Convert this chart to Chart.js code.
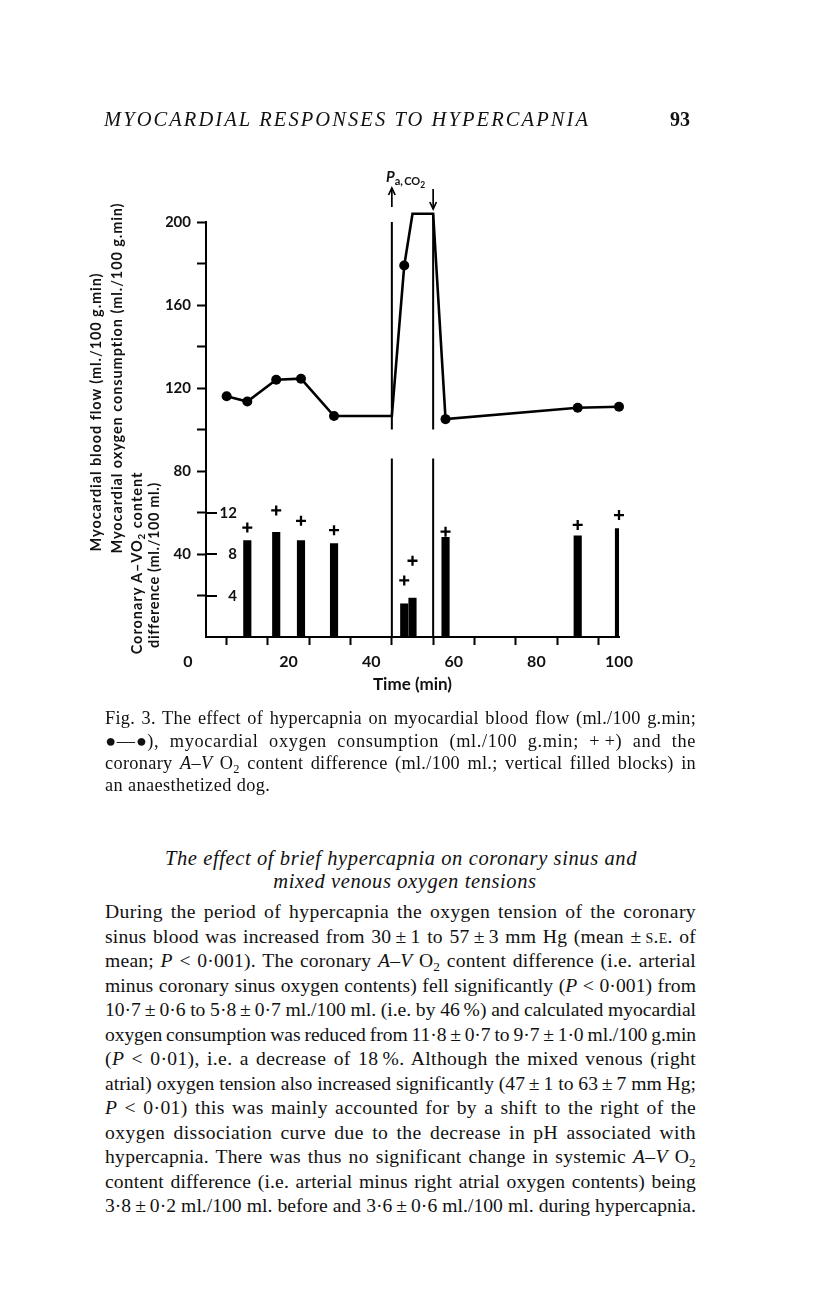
<!DOCTYPE html>
<html><head><meta charset="utf-8">
<script src="https://cdn.jsdelivr.net/npm/chart.js@4.4.1/dist/chart.umd.min.js"></script>
<style>
html,body{margin:0;padding:0;background:#fff;}
body{width:816px;height:1296px;position:relative;overflow:hidden;color:#111;}
#wrap{position:absolute;left:0;top:0;width:816px;height:720px;}
.abs{position:absolute;white-space:nowrap;}
.serif{font-family:"Liberation Serif","Times New Roman",serif;}
.sans{font-family:Lato,"Open Sans",sans-serif;}
.rot{position:absolute;white-space:nowrap;font-family:Lato,sans-serif;font-weight:bold;font-size:14.5px;line-height:16px;transform:translate(-50%,-50%) rotate(-90deg);color:#111;}
sub{font-size:0.68em;vertical-align:-0.3em;line-height:0;}
.sc{font-variant:small-caps;}
</style></head><body>
<div id="wrap"><canvas id="c" width="816" height="720"></canvas></div>
<div id="pco2" class="abs sans" style="left:386px;top:166px;color:#111;"><span style="font-style:italic;font-weight:bold;font-size:15px;">P</span><span style="font-size:11px;font-weight:bold;position:relative;top:3px;">a,&thinsp;CO<span style="font-size:8.5px;position:relative;top:3px;">2</span></span></div>
<script>
// ---------------- data ----------------
const times = [5, 10, 17, 23, 31, 45, 48, 50, 55, 58, 90, 100];
const bloodFlow = [116, 113.5, 124, 124.5, 106.5, 106.5, 179, 204, 204, 105, 110.5, 111];
const avTimes = [10, 17, 23, 31, 48, 50, 58, 90, 100];
const avDiff = [9.3, 10.1, 9.3, 9.0, 3.2, 3.75, 9.6, 9.75, 10.45];
const o2Consumption = [10.55, 12.2, 11.2, 10.3, 5.45, 7.35, 10.15, 10.8, 11.75];
const hyperStart = 45, hyperEnd = 55;
const markerBreak = [86, 100];
const flowTicks = [200, 160, 120, 80, 40];
const avTicks = [12, 8, 4];
const timeTicks = [0, 20, 40, 60, 80, 100];

const hideZero = ctx => (ctx.tick && ctx.tick.value === 0) ? 'rgba(0,0,0,0)' : '#000';
const tickFont = {family: 'Lato', size: 15, weight: 'bold'};

function periodLine(t, topVal) {
  return [{x: t, y: 0}, {x: t, y: markerBreak[0]}, {x: t, y: null}, {x: t, y: markerBreak[1]}, {x: t, y: topVal}];
}

const extras = {
  id: 'extras',
  afterDraw(chart) {
    const {ctx, scales: {x, y2}, chartArea} = chart;
    const left = x.left;
    ctx.save();
    ctx.strokeStyle = '#000'; ctx.fillStyle = '#111'; ctx.lineWidth = 2;
    ctx.font = 'bold 15px Lato'; ctx.textAlign = 'right'; ctx.textBaseline = 'middle';
    avTicks.forEach(v => {
      const py = Math.round(y2.getPixelForValue(v));
      ctx.beginPath(); ctx.moveTo(left, py); ctx.lineTo(left + 11, py); ctx.stroke();
      ctx.fillText(String(v), left + 31, py);
    });
    ctx.font = 'bold 16px Lato'; ctx.textAlign = 'center';
    ctx.fillText(String(timeTicks[0]), left - 18, x.top + 25);
    // arrows
    const top = chartArea.top;
    ctx.lineWidth = 1.7;
    function arrow(px, y0, y1) {
      const d = y1 > y0 ? 1 : -1;
      ctx.beginPath(); ctx.moveTo(px, y0); ctx.lineTo(px, y1); ctx.stroke();
      ctx.beginPath(); ctx.moveTo(px - 3.3, y1 - d * 7); ctx.lineTo(px, y1); ctx.lineTo(px + 3.3, y1 - d * 7); ctx.stroke();
    }
    arrow(x.getPixelForValue(hyperStart), top - 15, top - 34);
    arrow(x.getPixelForValue(hyperEnd), top - 33, top - 13);
    ctx.restore();
  }
};

new Chart(document.getElementById('c'), {
  type: 'line',
  data: {
    datasets: [
      {
        label: 'Myocardial blood flow',
        data: times.map((t, i) => ({x: t, y: bloodFlow[i]})),
        yAxisID: 'y', borderColor: '#000', borderWidth: 2.6, tension: 0,
        pointRadius: ctx => (ctx.raw && (ctx.raw.x === hyperStart || ctx.raw.x === hyperEnd)) ? 0 : 5,
        pointBackgroundColor: '#000', pointBorderColor: '#000', pointBorderWidth: 0,
        clip: false
      },
      {
        label: 'Start', data: periodLine(hyperStart, 200), yAxisID: 'y',
        borderColor: '#000', borderWidth: 2, pointRadius: 0, spanGaps: false, clip: false
      },
      {
        label: 'End', data: periodLine(hyperEnd, bloodFlow[times.indexOf(hyperEnd)]), yAxisID: 'y',
        borderColor: '#000', borderWidth: 2, pointRadius: 0, spanGaps: false, clip: false
      },
      {
        label: 'O2 consumption', data: avTimes.map((t, i) => ({x: t, y: o2Consumption[i]})), yAxisID: 'y2',
        showLine: false, pointStyle: 'cross', pointRadius: 5, pointBorderWidth: 2.3,
        borderColor: '#000', pointBorderColor: '#000', clip: false
      },
      {
        type: 'bar', label: 'A-V O2 difference', data: avTimes.map((t, i) => ({x: t, y: avDiff[i]})), yAxisID: 'y2',
        backgroundColor: '#000', borderWidth: 0, barThickness: 7.5
      }
    ]
  },
  options: {
    responsive: false, animation: false, devicePixelRatio: 1,
    layout: {padding: {left: 166, top: 222, right: 197, bottom: 25}},
    plugins: {legend: {display: false}, tooltip: {enabled: false}},
    scales: {
      x: {
        type: 'linear', min: 0, max: 100, offset: false,
        afterFit: s => { s.height = 58; },
        ticks: {stepSize: 10, autoSkip: false, maxRotation: 0, padding: 7, color: '#111',
          font: {family: 'Lato', size: 16, weight: 'bold'},
          callback: v => (v !== 0 && timeTicks.includes(v)) ? String(v) : ''},
        grid: {drawOnChartArea: false, drawTicks: true, tickLength: 8, tickWidth: 2, tickColor: hideZero, color: hideZero},
        border: {display: true, color: '#000', width: 2},
        title: {display: true, text: 'Time (min)', color: '#111', padding: 0,
          font: {family: 'Lato', size: 17, weight: 'bold'}}
      },
      y: {
        min: 0, max: 200, position: 'left',
        afterFit: s => { s.width = 40; },
        ticks: {stepSize: 20, autoSkip: false, padding: 6, color: '#111', font: tickFont,
          callback: v => flowTicks.includes(v) ? String(v) : ''},
        grid: {drawOnChartArea: false, drawTicks: true, tickLength: 9, tickWidth: 2, tickColor: hideZero, color: hideZero},
        border: {display: true, color: '#000', width: 2}
      },
      y2: {min: 0, max: 40, display: false}
    }
  },
  plugins: [extras]
});

// ---------------- page text ----------------
function rotLabel(html, cx, cy, len) {
  const d = document.createElement('div');
  d.className = 'rot'; d.innerHTML = html;
  document.body.appendChild(d);
  const n = d.textContent.length;
  const nat = d.offsetWidth;
  d.style.letterSpacing = ((len - nat) / n) + 'px';
  d.style.left = cx + 'px'; d.style.top = cy + 'px';
}
rotLabel('Myocardial blood flow (ml./100 g.min)', 96, 412, 279);
rotLabel('Myocardial oxygen consumption (ml./100 g.min)', 117, 378, 351);
rotLabel('Coronary A–VO<sub>2</sub> content', 137, 563, 183);
rotLabel('difference (ml./100 ml.)', 154, 565, 165);

function addLine(html, cy, left, width, size, mode, opts) {
  opts = opts || {};
  const d = document.createElement('div');
  d.className = 'abs serif';
  d.style.fontSize = size + 'px';
  d.style.lineHeight = Math.round(size * 1.2) + 'px';
  if (opts.ls) d.style.letterSpacing = opts.ls + 'px';
  if (opts.bold) d.style.fontWeight = 'bold';
  d.innerHTML = html;
  document.body.appendChild(d);
  const h = d.offsetHeight;
  d.style.top = (cy - h / 2) + 'px';
  const nat = d.getBoundingClientRect().width;
  const nchars = d.textContent.length;
  const spaces = (d.textContent.match(/ /g) || []).length;
  if (mode === 'justify') {
    const extra = width - nat;
    let ws = spaces ? extra * 0.5 / spaces : 0;
    if (ws < -2.6) ws = -2.6;
    if (ws > 6) ws = 6;
    const ls = (extra - ws * spaces) / nchars;
    d.style.wordSpacing = ws + 'px';
    d.style.letterSpacing = ls + 'px';
  } else if (mode === 'letter') {
    d.style.letterSpacing = ((width - nat) / nchars) + 'px';
  }
  if (mode === 'center') {
    const w = d.getBoundingClientRect().width;
    d.style.left = (left - w / 2) + 'px';
  } else {
    d.style.left = left + 'px';
  }
  return d;
}

// running head
addLine('<i>MYOCARDIAL RESPONSES TO HYPERCAPNIA</i>', 119, 104, 486, 20.5, 'letter');
addLine('93', 119, 670, 0, 20, 'none', {bold: true});

// caption
const capL = 105, capW = 591, capS = 18.3;
addLine('Fig. 3. The effect of hypercapnia on myocardial blood flow (ml./100 g.min;', 718, capL, capW, capS, 'justify');
addLine('●—●), myocardial oxygen consumption (ml./100 g.min; +\u2009+) and the', 740.5, capL, capW, capS, 'justify');
addLine('coronary <i>A–V</i> O<sub>2</sub> content difference (ml./100 ml.; vertical filled blocks) in', 763, capL, capW, capS, 'justify');
addLine('an anaesthetized dog.', 785, capL, capW, capS, 'none', {ls: 0.4});

// section heading
addLine('<i>The effect of brief hypercapnia on coronary sinus and</i>', 858, 401, 0, 20.5, 'center', {ls: 0.6});
addLine('<i>mixed venous oxygen tensions</i>', 881, 405, 0, 20.5, 'center', {ls: 0.6});

// body paragraph
const pm = '\u2009±\u2009';
const body = [
  'During the period of hypercapnia the oxygen tension of the coronary',
  'sinus blood was increased from 30' + pm + '1 to 57' + pm + '3 mm Hg (mean ±\u2009<span class="sc">s.e.</span> of',
  'mean; <i>P</i> &lt; 0·001). The coronary <i>A–V</i> O<sub>2</sub> content difference (i.e. arterial',
  'minus coronary sinus oxygen contents) fell significantly (<i>P</i> &lt; 0·001) from',
  '10·7' + pm + '0·6 to 5·8' + pm + '0·7 ml./100 ml. (i.e. by 46\u2009%) and calculated myocardial',
  'oxygen consumption was reduced from 11·8' + pm + '0·7 to 9·7' + pm + '1·0 ml./100 g.min',
  '(<i>P</i> &lt; 0·01), i.e. a decrease of 18\u2009%. Although the mixed venous (right',
  'atrial) oxygen tension also increased significantly (47' + pm + '1 to 63' + pm + '7 mm Hg;',
  '<i>P</i> &lt; 0·01) this was mainly accounted for by a shift to the right of the',
  'oxygen dissociation curve due to the decrease in pH associated with',
  'hypercapnia. There was thus no significant change in systemic <i>A–V</i> O<sub>2</sub>',
  'content difference (i.e. arterial minus right atrial oxygen contents) being',
  '3·8' + pm + '0·2 ml./100 ml. before and 3·6' + pm + '0·6 ml./100 ml. during hypercapnia.'
];
body.forEach((l, i) => addLine(l, 912 + i * 24.5, 105, 591, 19.6, 'justify'));
</script>
</body></html>
